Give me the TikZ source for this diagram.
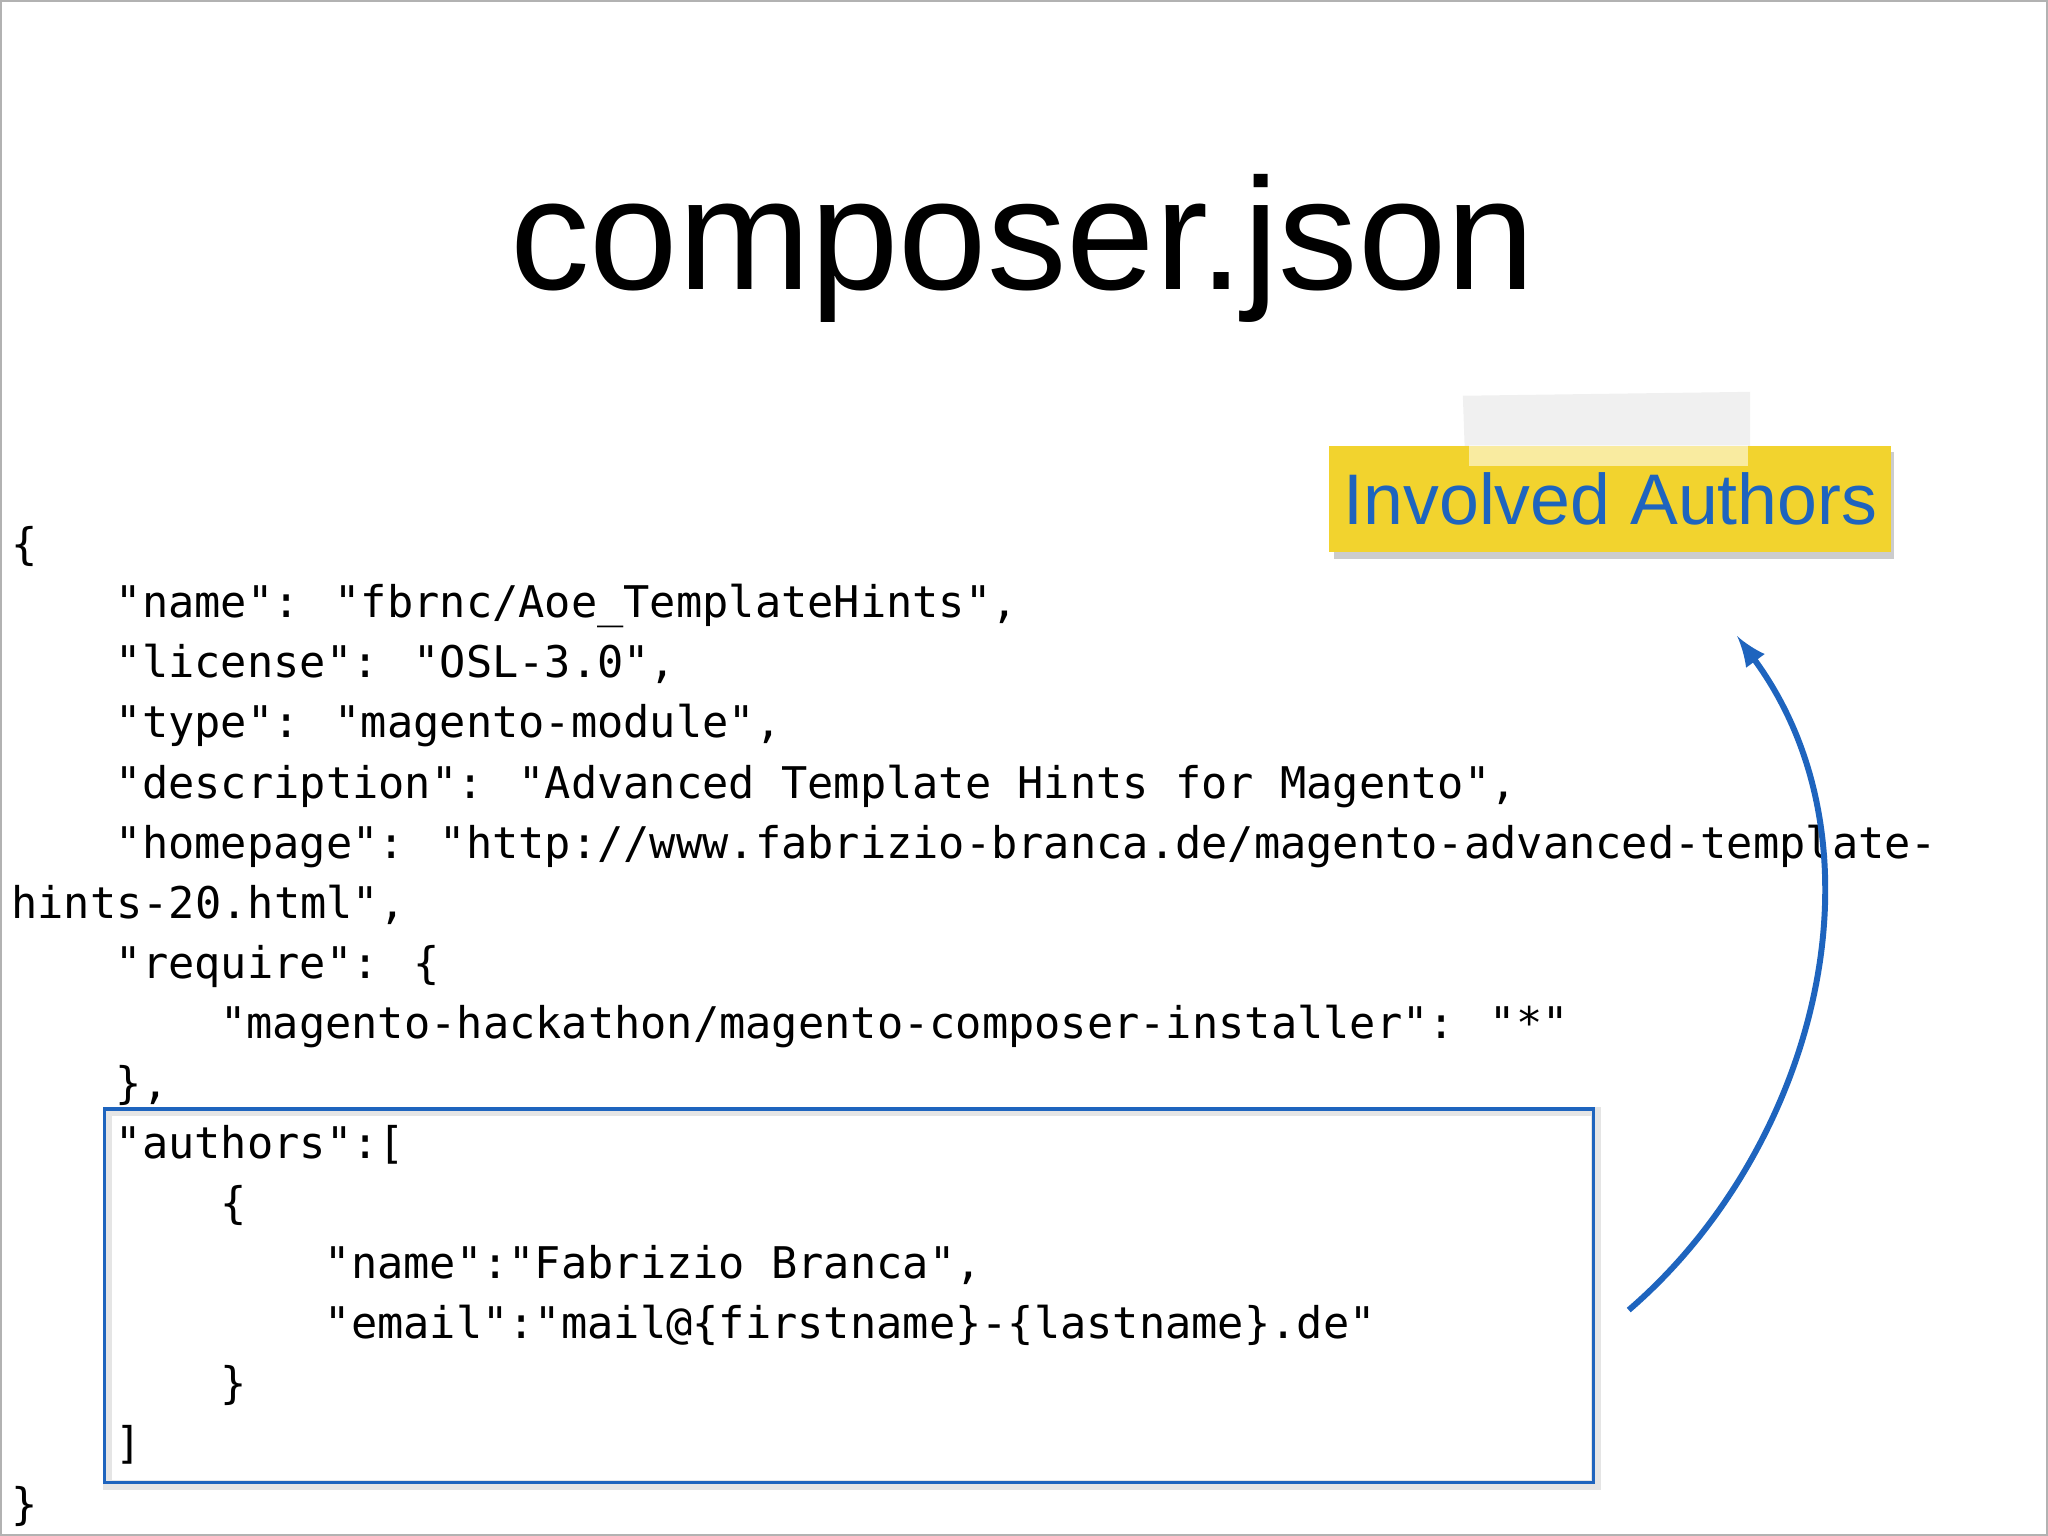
\documentclass[tikz,border=0pt]{standalone}
\usepackage{fontspec}
\setmainfont{Liberation Sans}
\newfontfamily\mono{DejaVu Sans Mono}
\begin{document}
\begin{tikzpicture}[x=0.01cm,y=-0.01cm,
  code/.style={anchor=base west,inner sep=0,font=\mono\fontsize{9.5pt}{12pt}\selectfont}]
\useasboundingbox (0,0) rectangle (1568,1176);
\fill[white] (0,0) rectangle (1568,1176);
\draw[gray!60] (0.5,0.5) rectangle (1567.5,1175.5);
\node[inner sep=0,font=\fontsize{34.6pt}{40pt}\selectfont] (title) at (783,190) {composer.json};
% tape + label
\fill[black!8,opacity=0.7] (1120,303) -- (1340,300) -- (1340,358) -- (1122,360) -- cycle;
\fill[black!20] (1021,346) rectangle (1450,428);
\node[fill={rgb,255:red,242;green,211;blue,46},minimum width=4.3cm,minimum height=0.81cm,inner sep=0,
  text={rgb,255:red,30;green,100;blue,190},font=\fontsize{15.6pt}{18pt}\selectfont] (lbl) at (1233,382) {Involved Authors};
\fill[white,opacity=0.55] (1125,341) rectangle (1338,357);
% code lines
\node[code] at (8,428) {\{};
\node[code] at (88,473) {"name": "fbrnc/Aoe\_TemplateHints",};
\node[code] at (88,519) {"license": "OSL-3.0",};
\node[code] at (88,565) {"type": "magento-module",};
\node[code] at (88,611) {"description": "Advanced Template Hints for Magento",};
\node[code] at (88,657) {"homepage": "http://www.fabrizio-branca.de/magento-advanced-template-};
\node[code] at (8,703) {hints-20.html",};
\node[code] at (88,749) {"require": \{};
\node[code] at (168,795) {"magento-hackathon/magento-composer-installer": "*"};
\node[code] at (88,841) {\},};
\node[code] at (88,887) {"authors":[};
\node[code] at (168,933) {\{};
\node[code] at (248,979) {"name":"Fabrizio Branca",};
\node[code] at (248,1025) {"email":"mail@\{firstname\}-\{lastname\}.de"};
\node[code] at (168,1071) {\}};
\node[code] at (88,1117) {]};
\node[code] at (8,1163) {\}};
% box
\draw[black!10,line width=2pt] (82,851) rectangle (1222,1137);
\draw[draw={rgb,255:red,30;green,100;blue,190},line width=0.7pt] (80,849) rectangle (1220,1135);
\coordinate (s) at (1247,1003);
\coordinate (e) at (1330,487);
\draw[draw={rgb,255:red,30;green,100;blue,190},line width=1.3pt,-latex] (s) .. controls (1390,880) and (1450,650) .. (e);
\end{tikzpicture}
\end{document}
